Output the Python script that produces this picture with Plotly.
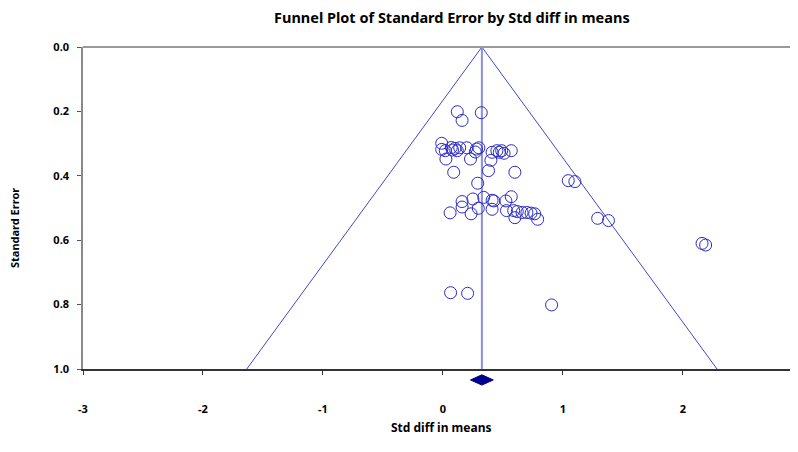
import numpy as np
import plotly.graph_objects as go

# ---- data ----
std_diff = [0.12, 0.16, 0.32,
            -0.01, -0.01, 0.02, 0.025, 0.07, 0.08, 0.10, 0.12, 0.14, 0.20, 0.23, 0.27, 0.28, 0.30,
            0.41, 0.40, 0.45, 0.47, 0.49, 0.51, 0.57,
            0.09, 0.38, 0.60, 0.29, 1.045, 1.10,
            0.16, 0.16, 0.06, 0.235, 0.25, 0.34, 0.295, 0.41, 0.425, 0.41, 0.525, 0.57, 0.53,
            0.59, 0.60, 0.62, 0.66, 0.70, 0.735, 0.765, 0.79, 1.29, 1.38, 2.16, 2.19,
            0.064, 0.206, 0.906]
std_err = [0.201, 0.228, 0.204,
           0.299, 0.318, 0.322, 0.348, 0.312, 0.320, 0.315, 0.322, 0.313, 0.313, 0.348, 0.326, 0.317, 0.313,
           0.327, 0.352, 0.322, 0.327, 0.322, 0.330, 0.322,
           0.389, 0.384, 0.389, 0.423, 0.415, 0.418,
           0.480, 0.497, 0.515, 0.518, 0.472, 0.467, 0.501, 0.476, 0.478, 0.504, 0.478, 0.465, 0.508,
           0.508, 0.530, 0.511, 0.514, 0.514, 0.516, 0.518, 0.535, 0.532, 0.539, 0.610, 0.615,
           0.763, 0.765, 0.801]
summary_effect = 0.325
summary_ci_low = 0.23
summary_ci_high = 0.42
z_crit = 1.96
se_max = 1.0
x_ticks = [-3, -2, -1, 0, 1, 2]
y_ticks = [0.0, 0.2, 0.4, 0.6, 0.8, 1.0]

FONT = "Noto Sans"
fig = go.Figure()

# funnel limits
se_line = np.array([se_max, 0.0, se_max])
x_line = summary_effect + np.array([-z_crit, 0.0, z_crit]) * se_line
fig.add_trace(go.Scatter(x=x_line, y=se_line, mode="lines",
                         line=dict(color="#4646C8", width=1), hoverinfo="skip"))
# vertical summary line
fig.add_trace(go.Scatter(x=[summary_effect, summary_effect], y=[0.0, se_max], mode="lines",
                         line=dict(color="#8C8CE0", width=2), hoverinfo="skip"))
# studies
fig.add_trace(go.Scatter(x=std_diff, y=std_err, mode="markers",
                         marker=dict(symbol="circle-open", size=12, color="#2B2BC8",
                                     line=dict(width=1, color="#2B2BC8"))))

# summary diamond below the axis (x in data units, y in paper units)
dy_c, dy_h = -0.034, 0.016
diamond_path = (f"M {summary_ci_low},{dy_c} L {summary_effect},{dy_c + dy_h} "
                f"L {summary_ci_high},{dy_c} L {summary_effect},{dy_c - dy_h} Z")

# the page body adds an 8px offset, so the figure is sized 790x444
fig.update_layout(
    width=790, height=444,
    margin=dict(l=75, r=0, t=39, b=83),
    plot_bgcolor="white", paper_bgcolor="white",
    showlegend=False,
    font=dict(family=FONT, size=11, color="black"),
    xaxis=dict(range=[-3, 2.96], tickvals=x_ticks, ticktext=[str(v) for v in x_ticks],
               showgrid=False, zeroline=False, showline=True, linecolor="#333333", linewidth=1.5,
               ticks="outside", ticklen=4, tickcolor="#333333", ticklabelstandoff=25,
               automargin=False,
               tickfont=dict(family=FONT, size=11, weight="bold")),
    yaxis=dict(range=[1.0, 0.0], tickvals=y_ticks, ticktext=[f"{v:.1f}" for v in y_ticks],
               showgrid=False, zeroline=False, showline=True, linecolor="#8A8A8A", linewidth=1.5,
               ticks="outside", ticklen=4, tickcolor="#555555", ticklabelstandoff=6,
               automargin=False,
               tickfont=dict(family=FONT, size=11, weight="bold")),
    shapes=[dict(type="line", xref="paper", yref="paper", x0=0, x1=1, y0=1, y1=1,
                 line=dict(color="#9A9A9A", width=2)),
            dict(type="path", xref="x", yref="paper", path=diamond_path,
                 fillcolor="#00008C", line=dict(color="#00008C", width=1))],
    annotations=[
        dict(text="Funnel Plot of Standard Error by Std diff in means", xref="paper", yref="paper",
             x=0.516, y=1, yshift=30, showarrow=False, xanchor="center", yanchor="middle",
             font=dict(family=FONT, size=14.5, weight="bold")),
        dict(text="Standard Error", xref="paper", yref="paper", x=0, xshift=-69, y=0.5, yshift=-20,
             textangle=-90, showarrow=False, xanchor="center", yanchor="middle",
             font=dict(family=FONT, size=11, weight="bold")),
        dict(text="Std diff in means", xref="paper", yref="paper", x=0.5, y=0, yshift=-58,
             showarrow=False, xanchor="center", yanchor="middle",
             font=dict(family=FONT, size=12, weight="bold")),
    ],
)

fig.write_html("out.html")
